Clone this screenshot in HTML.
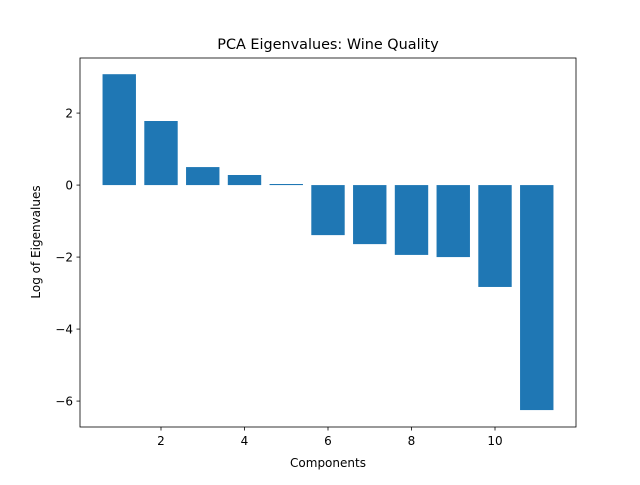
<!DOCTYPE html>
<html><head><meta charset="utf-8"><style>
body{margin:0;background:#fff;}
svg text{font-family:"DejaVu Sans","Liberation Sans",sans-serif;fill:#000;}
</style></head><body>
<svg id="chart" width="640" height="480">
<rect width="640" height="480" fill="#fff"/>
<text x="328" y="49" font-size="14.4" text-anchor="middle">PCA Eigenvalues: Wine Quality</text>
<g id="bars"></g>
<g id="axes"></g>
<text x="328" y="467" font-size="12" text-anchor="middle">Components</text>
<text transform="translate(40,242) rotate(-90)" font-size="12" text-anchor="middle">Log of Eigenvalues</text>
</svg>
<script>
const components=[1,2,3,4,5,6,7,8,9,10,11];
const logEigenvalues=[3.08,1.78,0.5,0.28,0.03,-1.39,-1.64,-1.94,-2.0,-2.83,-6.25];
const xTicks=[2,4,6,8,10];
const yTicks=[2,0,-2,-4,-6];
const L=80,R=576,T=58,B=427;
const xMin=0.06,xMax=11.94,yMin=-6.72,yMax=3.53;
const xs=v=>L+(v-xMin)/(xMax-xMin)*(R-L);
const ys=v=>T+(yMax-v)/(yMax-yMin)*(B-T);
const NS="http://www.w3.org/2000/svg";
const bars=document.getElementById('bars'),axes=document.getElementById('axes');
components.forEach((c,i)=>{
  const v=logEigenvalues[i];
  const r=document.createElementNS(NS,'rect');
  const x0=xs(c-0.4),x1=xs(c+0.4),y0=ys(Math.max(v,0)),y1=ys(Math.min(v,0));
  r.setAttribute('x',x0);r.setAttribute('width',x1-x0);
  r.setAttribute('y',y0);r.setAttribute('height',Math.max(y1-y0,0.5));
  r.setAttribute('fill','#1f77b4');
  
  
  bars.appendChild(r);
});
const frame=document.createElementNS(NS,'rect');
frame.setAttribute('x',L);frame.setAttribute('y',T);frame.setAttribute('width',R-L);frame.setAttribute('height',B-T);
frame.setAttribute('fill','none');frame.setAttribute('stroke','#000');frame.setAttribute('stroke-width','0.8');


axes.appendChild(frame);
xTicks.forEach(t=>{
  const x=xs(t);
  const l=document.createElementNS(NS,'line');
  l.setAttribute('x1',x);l.setAttribute('x2',x);l.setAttribute('y1',B);l.setAttribute('y2',B+3.5);l.setAttribute('stroke','#000');l.setAttribute('stroke-width','0.8');
  
  
  axes.appendChild(l);
  const tx=document.createElementNS(NS,'text');
  tx.setAttribute('x',x);tx.setAttribute('y',B+18);tx.setAttribute('font-size','12');tx.setAttribute('text-anchor','middle');
  tx.textContent=t;
  
  
  axes.appendChild(tx);
});
yTicks.forEach(t=>{
  const y=ys(t);
  const l=document.createElementNS(NS,'line');
  l.setAttribute('x1',L-3.5);l.setAttribute('x2',L);l.setAttribute('y1',y);l.setAttribute('y2',y);l.setAttribute('stroke','#000');l.setAttribute('stroke-width','0.8');
  
  
  axes.appendChild(l);
  const tx=document.createElementNS(NS,'text');
  tx.setAttribute('x',L-7);tx.setAttribute('y',y+4.5);tx.setAttribute('font-size','12');tx.setAttribute('text-anchor','end');
  tx.textContent=t<0?'\u2212'+Math.abs(t):t;
  
  
  axes.appendChild(tx);
});
</script>
</body></html>
